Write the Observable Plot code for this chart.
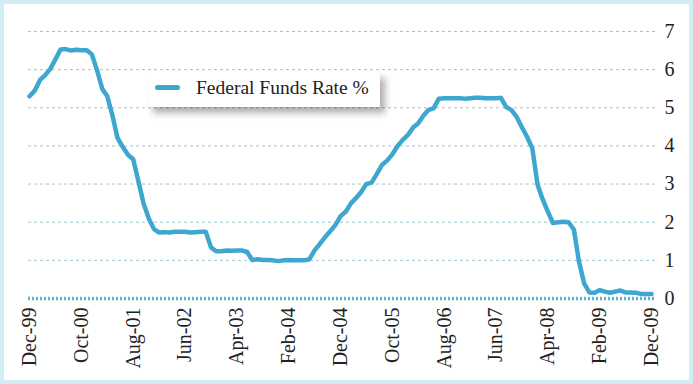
<!DOCTYPE html>
<html>
<head>
<meta charset="utf-8">
<script src="https://cdn.jsdelivr.net/npm/d3@7"></script>
<script src="https://cdn.jsdelivr.net/npm/@observablehq/plot@0.6"></script>
<style>
  html, body { margin: 0; padding: 0; background: #fff; }
  #wrap { position: relative; width: 693px; height: 384px; overflow: hidden; background: #fff; }
  #frame { position: absolute; left: 0; top: 0; width: 693px; height: 384px; box-sizing: border-box;
           border: 4px solid #d3edf4; pointer-events: none; }
  #legend { position: absolute; left: 148px; top: 72px; width: 232px; height: 35px; background: #fff;
            box-shadow: 5px 6px 7px rgba(0,0,0,0.32); font-family: 'Liberation Serif', 'Times New Roman', 'DejaVu Serif', serif; }
  #legend .sw { position: absolute; left: 7px; top: 13px; width: 25px; height: 5px; border-radius: 3px; background: #3da7cf; }
  #legend .tx { position: absolute; left: 48px; top: 6px; font-size: 19.5px; line-height: 20px; color: #222; white-space: nowrap; }
</style>
</head>
<body>
<div id="wrap"></div>
<script>
// Monthly effective Federal Funds Rate, Dec 1999 .. Dec 2009
const startYear = 1999, startMonth = 11; // December 1999 (0-based month)
const rates = [
  5.30,
  5.45,5.73,5.85,6.02,6.27,6.53,6.54,6.50,6.52,6.51,6.51,6.40,
  5.98,5.49,5.31,4.80,4.21,3.97,3.77,3.65,3.07,2.49,2.09,1.82,
  1.73,1.74,1.73,1.75,1.75,1.75,1.73,1.74,1.75,1.75,1.34,1.24,
  1.24,1.26,1.25,1.26,1.26,1.22,1.01,1.03,1.01,1.01,1.00,0.98,
  1.00,1.01,1.00,1.00,1.00,1.03,1.26,1.43,1.61,1.76,1.93,2.16,
  2.28,2.50,2.63,2.79,3.00,3.04,3.26,3.50,3.62,3.78,4.00,4.16,
  4.29,4.49,4.59,4.79,4.94,4.99,5.24,5.25,5.25,5.25,5.25,5.24,
  5.25,5.26,5.26,5.25,5.25,5.25,5.26,5.02,4.94,4.76,4.49,4.24,
  3.94,2.98,2.61,2.28,1.98,2.00,2.01,2.00,1.81,0.97,0.39,0.16,
  0.15,0.22,0.18,0.15,0.18,0.21,0.16,0.16,0.15,0.12,0.12,0.12
];
const xTickLabels = ["Dec-99","Oct-00","Aug-01","Jun-02","Apr-03","Feb-04","Dec-04","Oct-05","Aug-06","Jun-07","Apr-08","Feb-09","Dec-09"];
const xTickStep = 10; // months between labelled ticks
const yTicks = [0,1,2,3,4,5,6,7];
const seriesName = "Federal Funds Rate %";

const monthDate = i => new Date(Date.UTC(startYear, startMonth + i, 1));
const data = rates.map((r, i) => ({date: monthDate(i), rate: r}));
const tickDates = xTickLabels.map((_, k) => monthDate(k * xTickStep));
const labelByTime = new Map(tickDates.map((d, k) => [+d, xTickLabels[k]]));

const lineColor = "#3da7cf";
const serif = "'Liberation Serif', 'Times New Roman', 'DejaVu Serif', serif";

const chart = Plot.plot({
  width: 693,
  height: 384,
  marginLeft: 29,
  marginRight: 42,
  marginTop: 31,
  marginBottom: 86,
  style: {fontFamily: serif, fontSize: "20px", color: "#222", background: "transparent", overflow: "visible"},
  x: {type: "utc", domain: [data[0].date, data[data.length - 1].date], ticks: tickDates,
      tickFormat: d => labelByTime.get(+d), tickRotate: -90, tickSize: 0, tickPadding: 9, label: null},
  y: {domain: [0, 7], ticks: yTicks, tickFormat: d3.format("d"), label: null, axis: "right", tickSize: 0, tickPadding: 13},
  marks: [
    Plot.ruleY(yTicks.filter(d => d > 0), {stroke: "#9fc4d4", strokeWidth: 1, strokeDasharray: "3,3", insetLeft: -1, insetRight: -4}),
    Plot.ruleY([0], {stroke: "#5ab4d8", strokeWidth: 3.5, strokeDasharray: "2,2", insetLeft: -1, insetRight: -4}),
    Plot.line(data, {x: "date", y: "rate", stroke: lineColor, strokeWidth: 4.5, strokeLinejoin: "round", strokeLinecap: "round"})
  ]
});

const wrap = document.getElementById("wrap");
chart.style.position = "absolute";
chart.style.left = "0";
chart.style.top = "0";
chart.querySelectorAll("text").forEach(t => t.setAttribute("font-family", serif));
wrap.appendChild(chart);

const legend = document.createElement("div");
legend.id = "legend";
legend.innerHTML = `<span class="sw"></span><span class="tx"></span>`;
legend.querySelector(".sw").style.background = lineColor;
legend.querySelector(".tx").textContent = seriesName;
wrap.appendChild(legend);

const frame = document.createElement("div");
frame.id = "frame";
wrap.appendChild(frame);
</script>
</body>
</html>
